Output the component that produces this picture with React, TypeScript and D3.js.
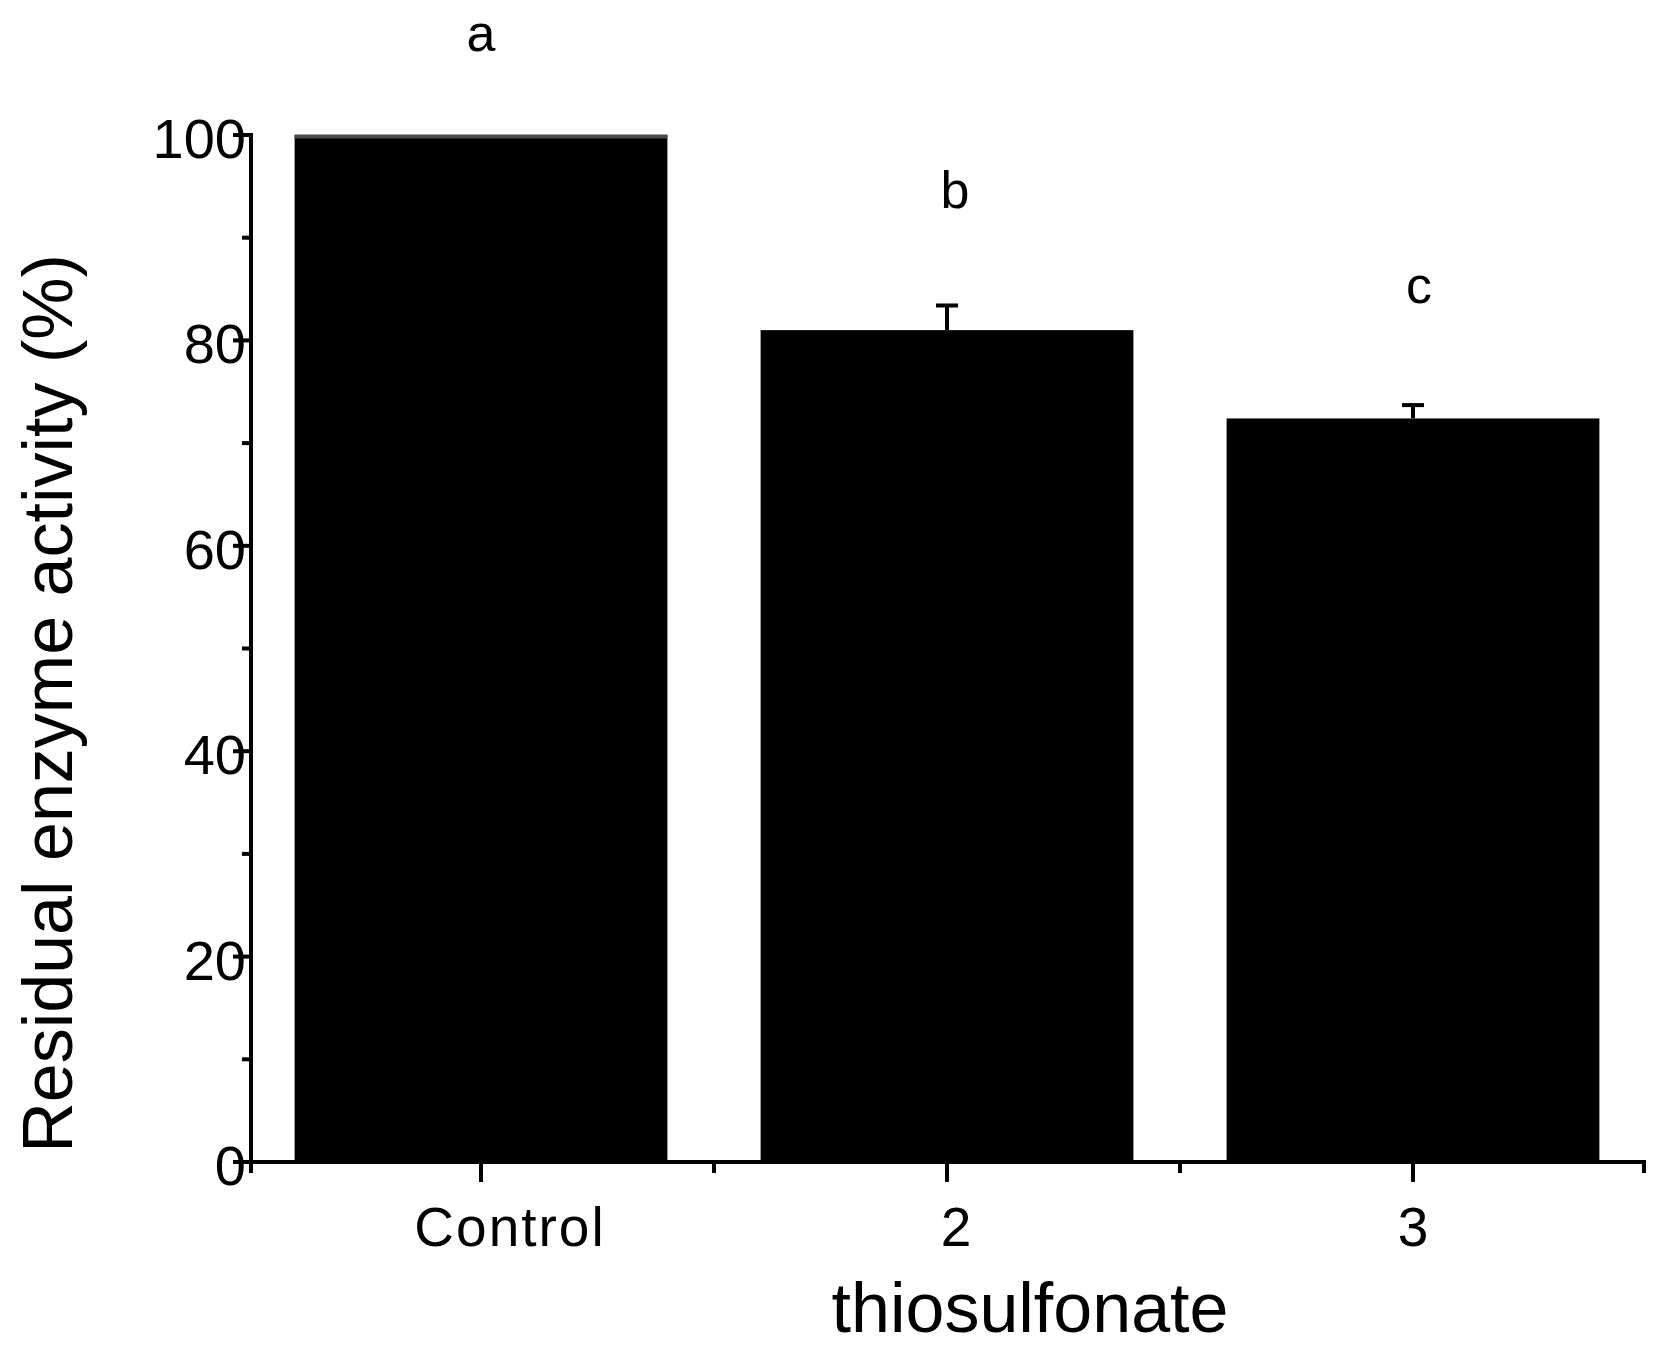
import * as d3 from 'd3';

const categories = ['Control', '2', '3'];
const activity = [100, 81, 72.4];
const errors = [0, 2.4, 1.3];
const letters = ['a', 'b', 'c'];
const letterLevels = [108.2, 92.9, 83.6];
const yTicks = [0, 20, 40, 60, 80, 100];
const yMinorTicks = [10, 30, 50, 70, 90];

const W = 1667;
const H = 1355;
const axisX = 251;
const axisY = 1162;
const topY = 135;
const rightX = 1646;
const font = '"Liberation Sans", Arial, sans-serif';

export default function App() {
  const y = d3.scaleLinear().domain([0, 100]).range([axisY, topY]);
  const x = d3
    .scaleBand<string>()
    .domain(categories)
    .range([248, 1646])
    .paddingInner(0.2)
    .paddingOuter(0.1);
  const step = x.step();
  const bw = x.bandwidth();
  const center = (c: string) => (x(c) ?? 0) + bw / 2;
  const boundaries = d3.range(categories.length + 1).map((k) => 248 + k * step);
  const letterShift = [0, 8, 6];

  return (
    <svg
      width={W}
      height={H}
      viewBox={`0 0 ${W} ${H}`}
      style={{ position: 'absolute', left: 0, top: 0, background: '#fff' }}
      fontFamily={font}
    >
      {/* bars */}
      {categories.map((c, i) => (
        <g key={c}>
          <rect x={x(c)} y={y(activity[i])} width={bw} height={axisY - y(activity[i])} fill="#000" />
          {errors[i] === 0 && (
            <line
              x1={x(c)}
              x2={(x(c) ?? 0) + bw}
              y1={y(activity[i]) + 1.5}
              y2={y(activity[i]) + 1.5}
              stroke="#4a4a4a"
              strokeWidth={4}
            />
          )}
          {errors[i] > 0 && (
            <g stroke="#000" strokeWidth={4}>
              <line x1={center(c)} x2={center(c)} y1={y(activity[i])} y2={y(activity[i] + errors[i])} />
              <line
                x1={center(c) - 11}
                x2={center(c) + 11}
                y1={y(activity[i] + errors[i])}
                y2={y(activity[i] + errors[i])}
              />
            </g>
          )}
          <text
            x={center(c) + letterShift[i]}
            y={y(letterLevels[i])}
            textAnchor="middle"
            fontSize={52}
            fill="#000"
          >
            {letters[i]}
          </text>
        </g>
      ))}

      {/* y axis */}
      <g stroke="#000" strokeWidth={4}>
        <line x1={axisX} x2={axisX} y1={topY - 2} y2={axisY + 2} />
        {yTicks.map((t) => (
          <line key={t} x1={axisX - 18} x2={axisX} y1={y(t)} y2={y(t)} />
        ))}
        {yMinorTicks.map((t) => (
          <line key={t} x1={axisX - 9} x2={axisX} y1={y(t)} y2={y(t)} />
        ))}
      </g>
      {yTicks.map((t) => (
        <text key={t} x={axisX - 5} y={y(t) + 23} textAnchor="end" fontSize={56} fill="#000">
          {t}
        </text>
      ))}

      {/* x axis */}
      <g stroke="#000" strokeWidth={4}>
        <line x1={axisX - 2} x2={rightX} y1={axisY} y2={axisY} />
        {categories.map((c) => (
          <line key={c} x1={center(c)} x2={center(c)} y1={axisY} y2={axisY + 20} />
        ))}
        {boundaries.map((b, k) => {
          const bx = Math.min(Math.max(b, axisX), rightX - 2);
          return <line key={k} x1={bx} x2={bx} y1={axisY} y2={axisY + 11} />;
        })}
      </g>
      {categories.map((c, i) => (
        <text
          key={c}
          x={center(c) + (i === 0 ? 29 : i === 1 ? 9 : 0)}
          y={axisY + 84}
          textAnchor="middle"
          fontSize={55}
          letterSpacing={i === 0 ? 2 : 0}
          fill="#000"
        >
          {c}
        </text>
      ))}

      {/* axis titles */}
      <text x={1030} y={1332} textAnchor="middle" fontSize={70} fill="#000">
        thiosulfonate
      </text>
      <text
        transform={`translate(72, ${(topY + axisY) / 2 + 55}) rotate(-90)`}
        textAnchor="middle"
        fontSize={70}
        fill="#000"
      >
        Residual enzyme activity (%)
      </text>
    </svg>
  );
}
